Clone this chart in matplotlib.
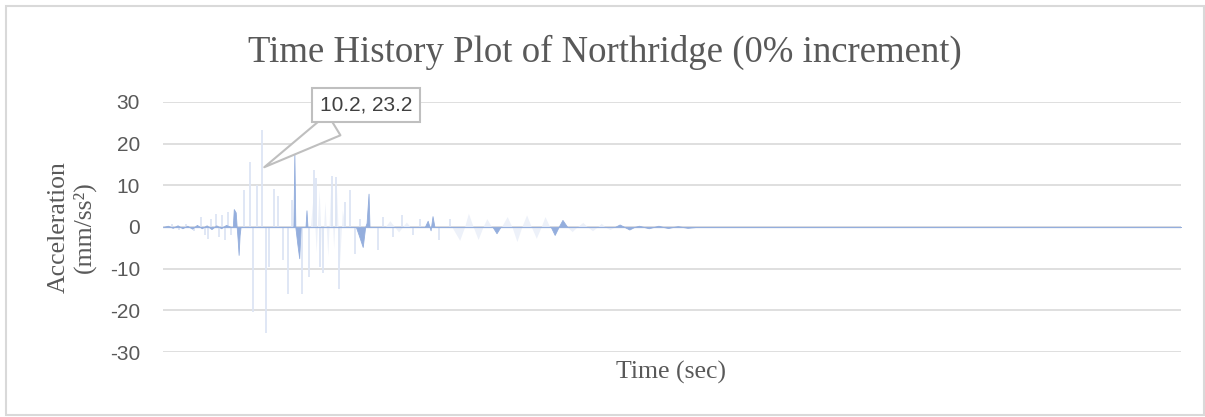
"""Time history plot of the Northridge record (0% increment)."""

import matplotlib

matplotlib.use("Agg")
import matplotlib.pyplot as plt
from matplotlib.patches import Rectangle

plt.rcParams["axes.unicode_minus"] = False

# thin high-frequency spikes (light)
SPIKE_T = [0.9, 1.6, 2.4, 3.2, 3.9, 4.3, 4.6, 5.0, 5.5, 5.8, 6.1, 6.4, 6.7, 7.0,
           8.4, 9.0, 9.3, 9.7, 10.2, 10.6, 10.9, 11.4, 11.9, 12.4, 12.9, 13.3,
           14.3, 15.1, 15.6, 15.8, 16.2, 16.5, 17.4, 17.8, 18.2, 18.8, 19.3,
           19.8, 20.3, 22.2, 22.7, 23.7, 24.7, 25.8, 26.5, 28.5, 29.6]
SPIKE_V = [0.6, -0.7, 0.8, -1.0, 2.4, -2.0, -3.0, 1.8, 3.0, -2.5, 2.8, -3.2, 3.5, -2.0,
           8.9, 15.5, -20.5, 10.0, 23.2, -25.5, -9.6, 9.0, 7.5, -8.0, -16.0, 6.5,
           -16.0, -12.0, 13.7, 11.7, -9.6, -11.0, 12.3, 12.1, -15.0, 6.0, 8.8,
           -6.4, 2.0, -5.6, 2.4, -2.4, 2.8, -2.0, 2.0, -3.2, 2.0]

# broader light waves
WAVE_T = [15.2, 15.5, 15.8, 16.1, 16.4, 16.7, 17.0, 17.3, 17.6, 17.9, 18.2, 18.5, 18.8,
          22.9, 23.4, 23.9, 24.3, 24.7, 25.1, 25.5,
          29.8, 30.6, 31.1, 31.5, 32.0, 32.5, 33.0, 33.4, 33.9,
          34.9, 35.5, 36.0, 36.5, 37.0, 37.5, 38.0, 38.5, 39.0, 39.4, 39.9,
          41.7, 42.2, 42.7, 43.3, 43.8, 44.3, 44.8, 45.2, 45.6, 46.1, 46.6]
WAVE_V = [0, 8, -6, 9, -8, 6, -7, 10, -5, 9, -9, 4, 0,
          0, 1.5, 0, -1.2, 0, 1.2, 0,
          0, -3.2, 0, 3.3, 0, -3.0, 0, 2.0, 0,
          0, 2.5, 0, -3.5, 0, 2.9, 0, -2.7, 0, 2.5, 0,
          0, -1.1, 0, 1.1, 0, -0.9, 0, 0.9, 0, -0.6, 0]

# stronger pulses (darker fill)
DARK_T = [0.0, 0.5, 1.0, 1.5, 2.0, 2.5, 3.0, 3.5, 4.0, 4.5, 5.0, 5.5, 6.0, 6.5, 7.0,
          7.2, 7.3, 7.5, 7.6, 7.7, 7.8, 7.9, 8.0,
          13.45, 13.55, 13.65, 13.85, 14.05, 14.2, 14.7, 14.8, 14.9,
          19.9, 20.2, 20.6, 20.85, 21.0, 21.2, 21.3, 21.5,
          27.0, 27.3, 27.6, 27.8, 28.0, 34.0, 34.4, 34.8,
          40.0, 40.4, 40.8, 41.2, 41.7,
          46.6, 47.1, 47.6, 48.1, 48.6, 49.1, 49.6, 50.1, 50.6, 51.1, 51.6,
          52.1, 52.6, 53.1, 53.6, 54.1, 55.0, 105.0]
DARK_V = [0, 0.3, -0.2, 0.4, -0.3, 0.3, -0.4, 0.5, -0.3, 0.4, -0.5, 0.4, -0.3, 0.5, 0,
          0, 4.3, 3.5, 0, -3.0, -6.7, -2.0, 0,
          0, 17.7, 0, -4.0, -7.5, 0, 0, 4.0, 0,
          0, -2.0, -4.8, 0, 1.0, 8.0, 0, 0,
          0, 1.5, -0.8, 2.6, 0, 0, -1.5, 0,
          0, -1.9, 0, 1.7, 0,
          0, 0.6, 0, -0.6, 0, 0.3, 0, -0.3, 0, 0.3, 0,
          -0.25, 0, 0.2, 0, -0.2, 0, 0]

Y_TICKS = [-30, -20, -10, 0, 10, 20, 30]
PEAK = (10.2, 23.2)

GRAY = "#595959"
W, H = 1205, 417

fig = plt.figure(figsize=(W / 100, H / 100), dpi=100)
ax = fig.add_axes([163 / W, 1 - 352 / H, (1181 - 163) / W, 250 / H])

for y in Y_TICKS:
    ax.axhline(y, color="#d9d9d9", lw=1.2, zorder=0)

ax.fill_between(WAVE_T, WAVE_V, 0, color="#edf1f9", lw=0, zorder=1)
ax.vlines(SPIKE_T, 0, SPIKE_V, color="#dde5f4", lw=1.3, zorder=2)
ax.fill_between(DARK_T, DARK_V, 0, color="#94aedd", lw=0.6, edgecolor="#94aedd", zorder=3)
ax.axhline(0, color="#bccae6", lw=1.0, zorder=2.5)

ax.set_xlim(0, 105)
ax.set_ylim(-30, 30)
ax.set_yticks(Y_TICKS)
ax.set_xticks([])
ax.tick_params(axis="y", length=0, pad=16.5, labelsize=15, labelcolor=GRAY)
for lab in ax.get_yticklabels():
    lab.set_fontfamily("Liberation Sans")
for s in ax.spines.values():
    s.set_visible(False)

ax.annotate(
    f"{PEAK[0]}, {PEAK[1]}",
    xy=(PEAK[0], 14.0),
    xytext=(366 / W, 1 - 105 / H),
    textcoords="figure fraction",
    ha="center", va="center",
    fontsize=15, family="Liberation Sans", color="#404040",
    bbox=dict(boxstyle="square,pad=0.38", fc="white", ec="#bfbfbf", lw=1.5),
    arrowprops=dict(arrowstyle="wedge,tail_width=1.2,shrink_factor=0.5",
                    fc="white", ec="#bfbfbf", lw=1.5),
    zorder=5,
)

fig.text(605 / W, 1 - 52 / H, "Time History Plot of Northridge (0% increment)",
         ha="center", va="center", fontsize=26.5, family="Liberation Serif", color=GRAY)
fig.text(72 / W, 1 - 227 / H, "Acceleration\n(mm/ss\u00b2)", rotation=90,
         ha="center", va="center", multialignment="center", linespacing=1.15,
         fontsize=18.5, family="Liberation Serif", color=GRAY)
fig.text(671 / W, 1 - 372 / H, "Time (sec)", ha="center", va="center",
         fontsize=18.5, family="Liberation Serif", color=GRAY)

fig.patches.append(Rectangle((6 / W, 2 / H), (W - 7) / W, (H - 8) / H,
                             transform=fig.transFigure, fill=False,
                             ec="#d9d9d9", lw=1.5))

fig.savefig("out.png", dpi=100)
